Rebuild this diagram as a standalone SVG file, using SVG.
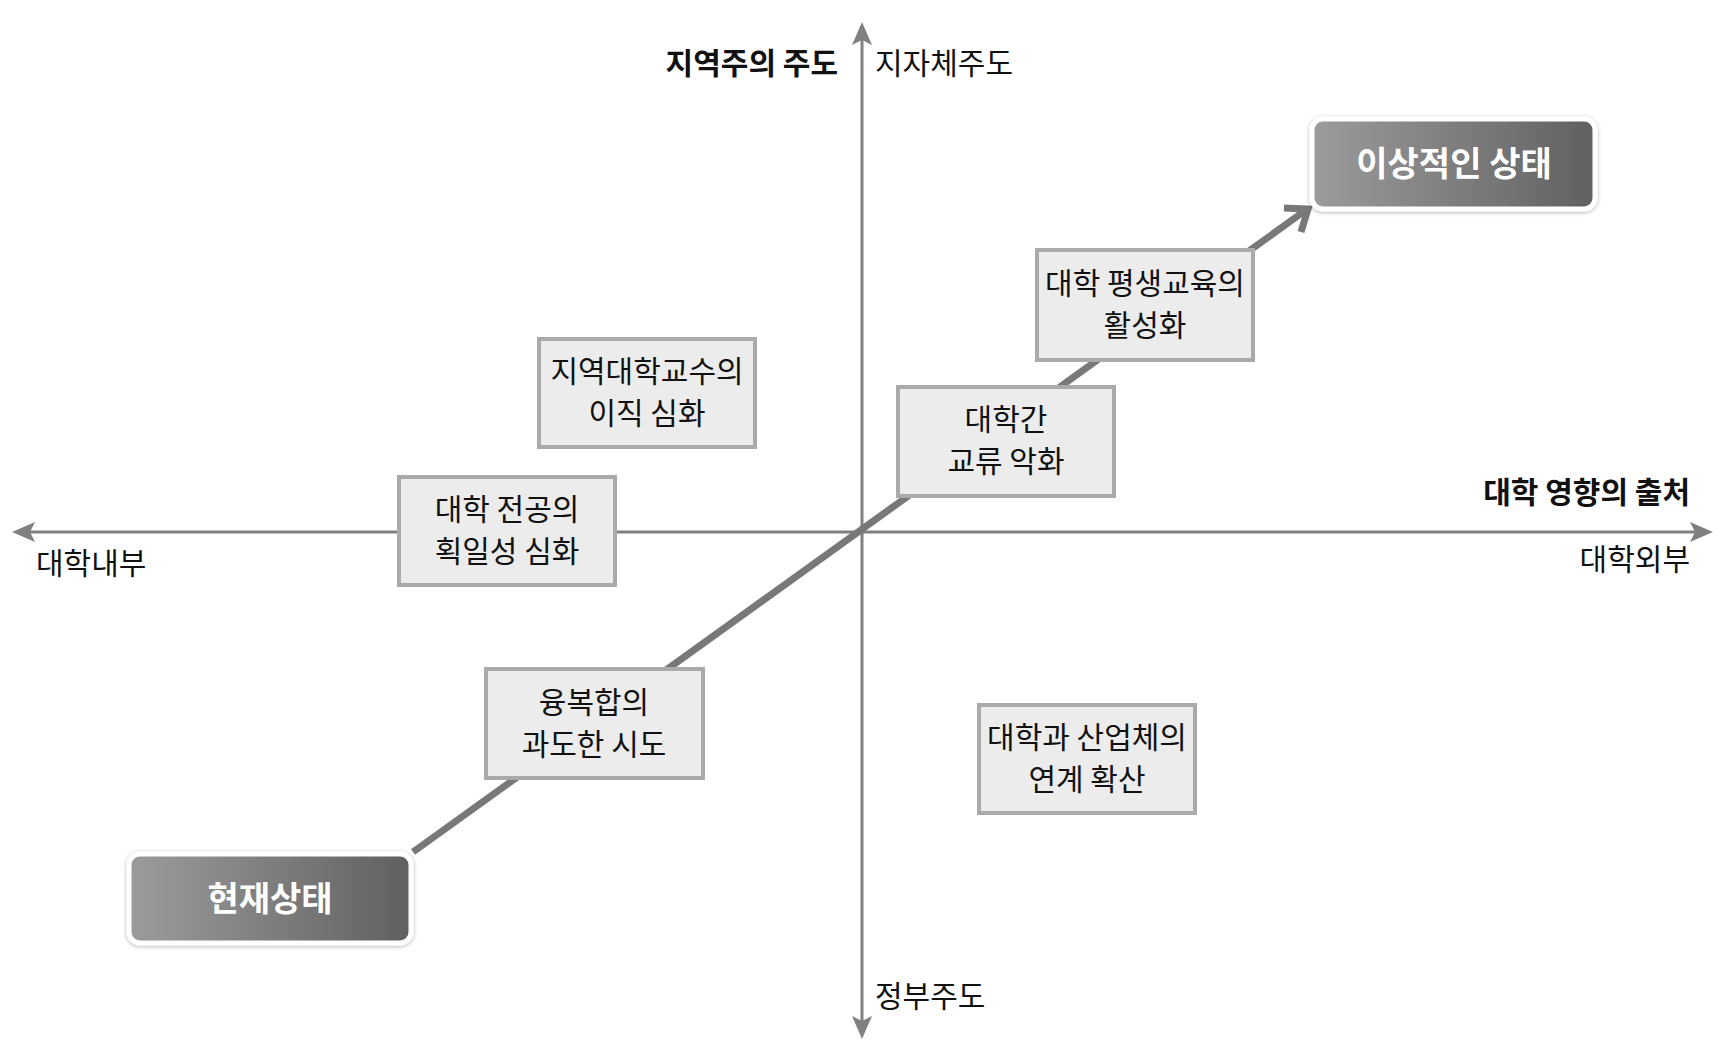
<svg xmlns="http://www.w3.org/2000/svg" width="1724" height="1063" viewBox="0 0 1724 1063">
<style>
.t{font-family:"Noto Sans CJK KR","Noto Sans",sans-serif;font-size:30px;fill:#111;}
.b{font-weight:bold;}
.c{text-anchor:middle;}
.e{text-anchor:end;}
.box{fill:#ececec;stroke:#aaaaaa;stroke-width:4;}
.dark{fill:url(#g);stroke:#ffffff;stroke-width:5;filter:url(#sh);}
.w{fill:#ffffff;font-size:34px;font-weight:bold;}
.ax{stroke:#808080;stroke-width:3;fill:none;}
.ah{fill:#808080;}
</style>
<defs>
<linearGradient id="g" x1="0" y1="0" x2="1" y2="0">
<stop offset="0" stop-color="#9c9c9c"/>
<stop offset="1" stop-color="#606060"/>
</linearGradient>
<filter id="sh" x="-10%" y="-20%" width="120%" height="140%">
<feDropShadow dx="0" dy="1" stdDeviation="2" flood-color="#000" flood-opacity="0.3"/>
</filter>
</defs>
<g id="connectors">
<line class="ax" x1="20" y1="532" x2="1705" y2="532"/>
<polygon class="ah" points="12,532 35,522 30,532 35,542"/>
<polygon class="ah" points="1713,532 1690,522 1695,532 1690,542"/>
<line class="ax" x1="862" y1="30" x2="862" y2="1030"/>
<polygon class="ah" points="862,22 852,45 862,40 872,45"/>
<polygon class="ah" points="862,1039 852,1016 862,1021 872,1016"/>
<line x1="413" y1="852" x2="1306" y2="210" stroke="#787878" stroke-width="7"/>
<polyline points="1284,208 1308,209 1301,232" fill="none" stroke="#787878" stroke-width="7" stroke-linejoin="miter"/>
</g>
<g id="axis-labels">
<text class="t b e" x="838" y="74">지역주의 주도</text>
<text class="t" x="875" y="74">지자체주도</text>
<text class="t b e" x="1690" y="503">대학 영향의 출처</text>
<text class="t e" x="1690" y="570">대학외부</text>
<text class="t" x="36" y="574">대학내부</text>
<text class="t" x="875" y="1007">정부주도</text>
</g>
<g id="n-current">
<rect class="dark" x="129" y="854" width="282" height="89" rx="11"/>
<text class="t w c" x="270" y="911">현재상태</text>
</g>
<g id="n-ideal">
<rect class="dark" x="1312" y="119" width="283" height="90" rx="11"/>
<text class="t w c" x="1454" y="176">이상적인 상태</text>
</g>
<g id="n-major">
<rect class="box" x="399" y="477" width="216" height="108"/>
<text class="t c" x="507" y="520">대학 전공의</text>
<text class="t c" x="507" y="562">획일성 심화</text>
</g>
<g id="n-prof">
<rect class="box" x="539" y="339" width="216" height="108"/>
<text class="t c" x="647" y="382">지역대학교수의</text>
<text class="t c" x="647" y="424">이직 심화</text>
</g>
<g id="n-exchange">
<rect class="box" x="898" y="387" width="216" height="109"/>
<text class="t c" x="1006" y="430">대학간</text>
<text class="t c" x="1006" y="472">교류 악화</text>
</g>
<g id="n-lifelong">
<rect class="box" x="1037" y="250" width="216" height="110"/>
<text class="t c" x="1145" y="294">대학 평생교육의</text>
<text class="t c" x="1145" y="336">활성화</text>
</g>
<g id="n-convergence">
<rect class="box" x="486" y="669" width="217" height="109"/>
<text class="t c" x="594" y="713">융복합의</text>
<text class="t c" x="594" y="755">과도한 시도</text>
</g>
<g id="n-industry">
<rect class="box" x="979" y="705" width="216" height="108"/>
<text class="t c" x="1087" y="748">대학과 산업체의</text>
<text class="t c" x="1087" y="790">연계 확산</text>
</g>
</svg>
